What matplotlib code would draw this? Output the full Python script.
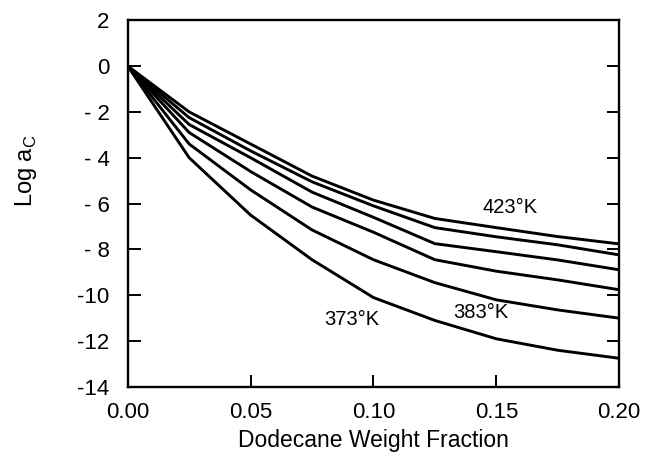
import matplotlib
matplotlib.use('Agg')
import matplotlib.pyplot as plt

plt.rcParams['font.family'] = ['Liberation Sans', 'DejaVu Sans']

# weight fraction grid and log activity curves, one per temperature (high T on top)
frac = [0.0, 0.025, 0.05, 0.075, 0.10, 0.125, 0.15, 0.175, 0.20]
curves = [
    [0.0, -2.0, -3.4, -4.8, -5.85, -6.65, -7.05, -7.44, -7.76],
    [0.0, -2.25, -3.7, -5.05, -6.1, -7.05, -7.45, -7.8, -8.24],
    [0.0, -2.55, -4.0, -5.5, -6.6, -7.75, -8.1, -8.46, -8.89],
    [0.0, -2.9, -4.6, -6.15, -7.25, -8.45, -8.95, -9.33, -9.76],
    [0.0, -3.4, -5.4, -7.15, -8.45, -9.45, -10.2, -10.64, -11.0],
    [0.0, -4.0, -6.5, -8.45, -10.1, -11.1, -11.9, -12.4, -12.75],
]
# temperature labels: (text, x, y)
labels = [("423°K", 0.1556, -6.15), ("383°K", 0.1438, -10.77), ("373°K", 0.0912, -11.07)]

yticks = [2, 0, -2, -4, -6, -8, -10, -12, -14]
yticklabels = ["2", "0", "- 2", "- 4", "- 6", "- 8", "-10", "-12", "-14"]
xticks = [0.0, 0.05, 0.10, 0.15, 0.20]
xticklabels = ["0.00", "0.05", "0.10", "0.15", "0.20"]

fig = plt.figure(figsize=(6.45, 4.59), dpi=100)
ax = fig.add_axes([0.198, 0.157, 0.762, 0.799])

for c in curves:
    ax.plot(frac, c, color='k', lw=2.1, solid_joinstyle='round')

for txt, x, y in labels:
    ax.text(x, y, txt, fontsize=14.5, ha='center', va='center')

ax.set_xlim(0, 0.2)
ax.set_ylim(-14, 2)
ax.set_xticks(xticks)
ax.set_xticklabels(xticklabels)
ax.set_yticks(yticks)
ax.set_yticklabels(yticklabels)
ax.tick_params(direction='in', length=9, width=1.4, labelsize=16)
ax.tick_params(axis='y', right=True, pad=13)
ax.tick_params(axis='x', pad=11)
for s in ax.spines.values():
    s.set_linewidth(1.7)

ax.set_xlabel("Dodecane Weight Fraction", fontsize=16.5, labelpad=4)
ax.set_ylabel("Log a$_\\mathregular{C}$", fontsize=17)
ax.yaxis.set_label_coords(-0.18, 0.59)

fig.savefig("out.png", dpi=100)
